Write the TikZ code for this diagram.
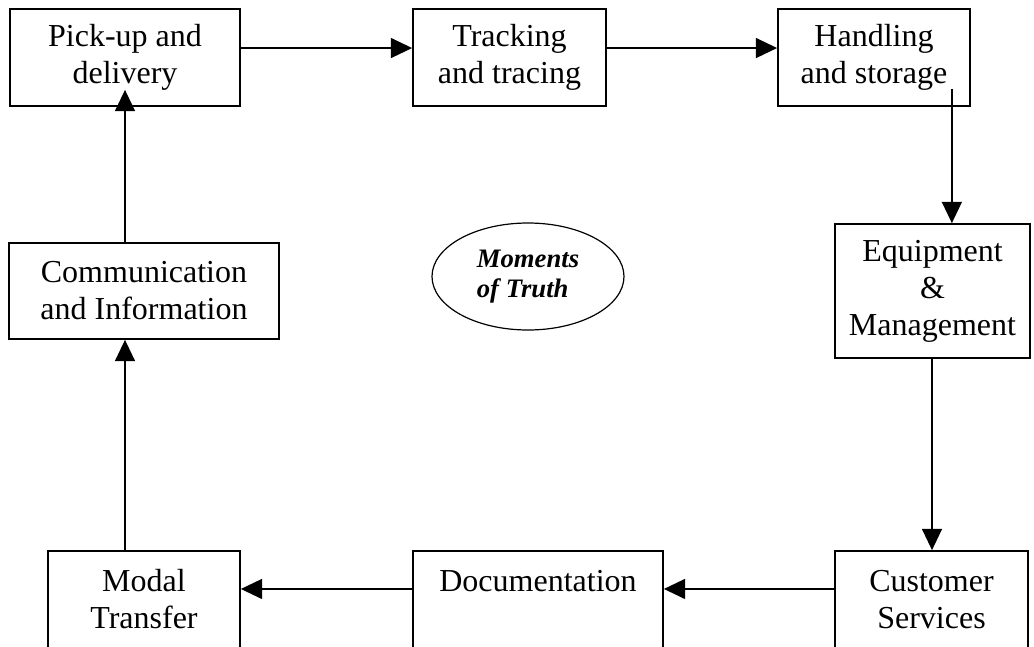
\documentclass[tikz,border=0pt]{standalone}
\usepackage{fontspec}
\setmainfont{Liberation Serif}
\usetikzlibrary{arrows.meta,shapes.geometric}

\begin{document}
\begin{tikzpicture}[x=0.75pt,y=-0.75pt,
  box/.style={draw,line width=1.3pt,align=center,inner sep=0pt,minimum height=72.75pt,
    font=\fontsize{24}{27.75}\selectfont},
  flow/.style={line width=1.3pt,-{Triangle[length=16pt,width=15pt]}}]
  \clip (0,0) rectangle (1034,646);
  \node[box,minimum width=172.5pt] (pick) at (125,57.5) {Pick-up and\\delivery};
  \node[box,minimum width=144.75pt] (track) at (509.5,57.5) {Tracking\\and tracing};
  \node[box,minimum width=144pt] (hand) at (874,57.5) {Handling\\and storage};
  \node[box,minimum width=146.25pt,minimum height=100.5pt] (equip) at (932.5,291) {Equipment\\\&\\Management};
  \node[box,minimum width=144.75pt] (cust) at (931.5,599.5) {Customer\\Services};
  \node[box,minimum width=187.5pt] (doc) at (538,599.5) {Documentation\\\mbox{}};
  \node[box,minimum width=144pt] (modal) at (144,599.5) {Modal\\Transfer};
  \node[box,minimum width=202.5pt,minimum height=72pt] (comm) at (144,291) {Communication\\and Information};
  \node[draw,ellipse,line width=0.9pt,inner sep=0pt,minimum width=144pt,minimum height=80.25pt,
    align=left,font=\fontsize{20}{22.5}\selectfont\bfseries\itshape] (truth) at (528,276.5) {Moments\\of Truth};

  \coordinate (handout) at ([xshift=-14.25pt,yshift=13.5pt]hand.south east);
  \coordinate (equipout) at ([xshift=-0.375pt]equip.south);
  \draw[flow] ([yshift=7.1pt]pick.east) -- ([yshift=7.1pt]track.west);
  \draw[flow] ([yshift=7.1pt]track.east) -- ([yshift=7.1pt]hand.west);
  \draw[flow] (handout) -- (handout |- equip.north);
  \draw[flow] (equipout) -- (equipout |- cust.north);
  \draw[flow] ([yshift=7.9pt]cust.west) -- ([yshift=7.9pt]doc.east);
  \draw[flow] ([yshift=7.9pt]doc.west) -- ([yshift=7.9pt]modal.east);
  \draw[flow] ([xshift=-14.25pt]modal.north) -- ([xshift=-14.25pt]comm.south);
  \draw[flow] ([xshift=-14.25pt]comm.north) -- ([yshift=12.75pt]pick.south);
\end{tikzpicture}
\end{document}
